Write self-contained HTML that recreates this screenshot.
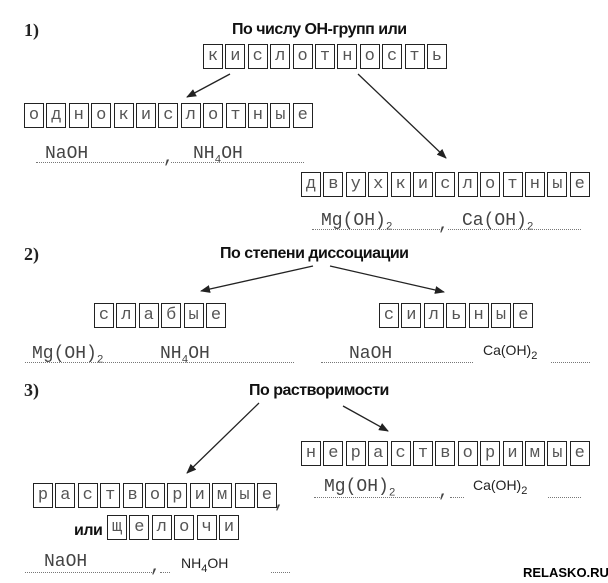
<!DOCTYPE html>
<html><head><meta charset="utf-8"><style>
*{margin:0;padding:0;box-sizing:border-box}
body{width:608px;height:583px;background:#fff;position:relative;overflow:hidden;font-family:"Liberation Sans","DejaVu Sans",sans-serif}
.a{position:absolute;white-space:nowrap}
.w{position:absolute;display:flex;gap:2.4px}
.w span{width:20px;height:25px;border:1.5px solid #222;font-family:"Liberation Mono","DejaVu Sans Mono",monospace;font-size:17px;color:#555;display:flex;align-items:center;justify-content:center;line-height:1}
.t{font-weight:bold;font-size:16px;color:#111;letter-spacing:-0.5px}
.n{font-weight:bold;font-family:"Liberation Serif",serif;font-size:18px;color:#222}
.m{font-family:"Liberation Mono",monospace;font-size:18px;color:#444;line-height:1}
.s{font-size:14px;color:#222;line-height:1}
.d{position:absolute;border-top:1.3px dotted #777;height:0}
sub{font-size:11px}
</style></head><body>
<svg width="608" height="583" style="position:absolute;left:0;top:0">
<defs><marker id="ar" markerWidth="10" markerHeight="8" refX="9" refY="4" orient="auto" markerUnits="userSpaceOnUse"><path d="M0,0 L10,4 L0,8 z" fill="#222"/></marker></defs>
<g stroke="#222" stroke-width="1.3" marker-end="url(#ar)">
<line x1="230" y1="74" x2="187" y2="97"/>
<line x1="358" y1="74" x2="446" y2="158"/>
<line x1="313" y1="266" x2="201" y2="291"/>
<line x1="330" y1="266" x2="444" y2="292"/>
<line x1="259" y1="403" x2="187" y2="473"/>
<line x1="343" y1="406" x2="388" y2="431"/>
</g></svg>

<div class="a n" style="left:24px;top:20px">1)</div>
<div class="a t" style="left:232px;top:21px">По числу ОН-групп или</div>
<div class="w" style="left:203px;top:44px"><span>к</span><span>и</span><span>с</span><span>л</span><span>о</span><span>т</span><span>н</span><span>о</span><span>с</span><span>т</span><span>ь</span></div>
<div class="w" style="left:24px;top:103px"><span>о</span><span>д</span><span>н</span><span>о</span><span>к</span><span>и</span><span>с</span><span>л</span><span>о</span><span>т</span><span>н</span><span>ы</span><span>е</span></div>
<div class="a m" style="left:45px;top:145px">NaOH</div>
<div class="d" style="left:36px;top:162px;width:128px"></div>
<div class="a m" style="left:163px;top:149px">,</div>
<div class="a m" style="left:193px;top:145px">NH<sub>4</sub>OH</div>
<div class="d" style="left:171px;top:162px;width:133px"></div>
<div class="w" style="left:301px;top:172px"><span>д</span><span>в</span><span>у</span><span>х</span><span>к</span><span>и</span><span>с</span><span>л</span><span>о</span><span>т</span><span>н</span><span>ы</span><span>е</span></div>
<div class="a m" style="left:321px;top:212px">Mg(OH)<sub>2</sub></div>
<div class="d" style="left:312px;top:229px;width:128px"></div>
<div class="a m" style="left:438px;top:216px">,</div>
<div class="a m" style="left:462px;top:212px">Ca(OH)<sub>2</sub></div>
<div class="d" style="left:448px;top:229px;width:133px"></div>

<div class="a n" style="left:24px;top:244px">2)</div>
<div class="a t" style="left:220px;top:245px">По степени диссоциации</div>
<div class="w" style="left:94px;top:303px"><span>с</span><span>л</span><span>а</span><span>б</span><span>ы</span><span>е</span></div>
<div class="w" style="left:379px;top:303px"><span>с</span><span>и</span><span>л</span><span>ь</span><span>н</span><span>ы</span><span>е</span></div>
<div class="a m" style="left:32px;top:345px">Mg(OH)<sub>2</sub></div>
<div class="a m" style="left:160px;top:345px">NH<sub>4</sub>OH</div>
<div class="d" style="left:25px;top:362px;width:269px"></div>
<div class="a m" style="left:349px;top:345px">NaOH</div>
<div class="d" style="left:321px;top:362px;width:152px"></div>
<div class="a s" style="left:483px;top:343px">Ca(OH)<sub>2</sub></div>
<div class="d" style="left:551px;top:362px;width:39px"></div>

<div class="a n" style="left:24px;top:380px">3)</div>
<div class="a t" style="left:249px;top:382px">По растворимости</div>
<div class="w" style="left:301px;top:441px"><span>н</span><span>е</span><span>р</span><span>а</span><span>с</span><span>т</span><span>в</span><span>о</span><span>р</span><span>и</span><span>м</span><span>ы</span><span>е</span></div>
<div class="a m" style="left:324px;top:478px">Mg(OH)<sub>2</sub></div>
<div class="d" style="left:314px;top:497px;width:128px"></div>
<div class="a m" style="left:438px;top:483px">,</div>
<div class="d" style="left:450px;top:497px;width:14px"></div>
<div class="a s" style="left:473px;top:478px">Ca(OH)<sub>2</sub></div>
<div class="d" style="left:548px;top:497px;width:33px"></div>
<div class="w" style="left:33px;top:483px"><span>р</span><span>а</span><span>с</span><span>т</span><span>в</span><span>о</span><span>р</span><span>и</span><span>м</span><span>ы</span><span>е</span></div>
<div class="a m" style="left:274px;top:494px">,</div>
<div class="a t" style="left:74px;top:522px">или</div>
<div class="w" style="left:107px;top:515px"><span>щ</span><span>е</span><span>л</span><span>о</span><span>ч</span><span>и</span></div>
<div class="a m" style="left:44px;top:553px">NaOH</div>
<div class="d" style="left:25px;top:572px;width:127px"></div>
<div class="a m" style="left:150px;top:558px">,</div>
<div class="d" style="left:160px;top:572px;width:10px"></div>
<div class="a s" style="left:181px;top:556px">NH<sub>4</sub>OH</div>
<div class="d" style="left:271px;top:572px;width:19px"></div>
<div class="a" style="left:523px;top:565px;font-weight:bold;font-size:13px;color:#000">RELASKO.RU</div>
</body></html>
